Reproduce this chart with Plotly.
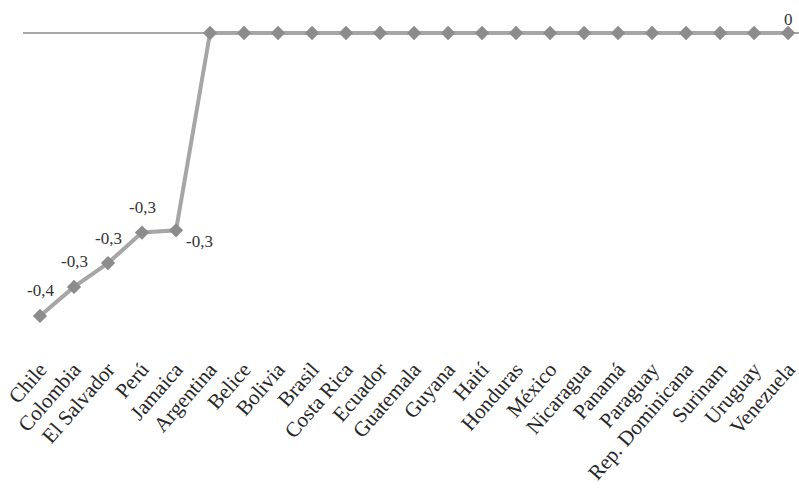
import plotly.graph_objects as go

countries = ["Chile", "Colombia", "El Salvador", "Perú", "Jamaica", "Argentina", "Belice",
             "Bolivia", "Brasil", "Costa Rica", "Ecuador", "Guatemala", "Guyana", "Haití",
             "Honduras", "México", "Nicaragua", "Panamá", "Paraguay", "Rep. Dominicana",
             "Surinam", "Uruguay", "Venezuela"]
values = [-0.38, -0.341, -0.309, -0.268, -0.265, 0, 0, 0, 0, 0, 0, 0, 0, 0, 0, 0, 0, 0, 0, 0, 0, 0, 0]

def fmt(v):
    return f"{v:.1f}".replace(".", ",") if v != 0 else "0"

fig = go.Figure()
fig.add_trace(go.Scatter(
    x=countries, y=values, mode="lines+markers",
    line=dict(color="#A6A6A6", width=4),
    marker=dict(symbol="diamond", size=11, color="#8C8C8C"),
    cliponaxis=False, showlegend=False, hoverinfo="skip",
))

# data labels (label offsets in pixels)
for i, (c, v) in enumerate(zip(countries, values)):
    if v == 0 and i != len(values) - 1:
        continue
    xs, ys = 0, 25
    if c == "Jamaica":
        xs, ys = 23, -11
    if v == 0:
        ys = 14
    fig.add_annotation(x=c, y=v, text=fmt(v), showarrow=False,
                       xshift=xs, yshift=ys,
                       font=dict(family="Liberation Serif", size=17, color="#333333"))

fig.update_layout(
    width=799, height=493,
    margin=dict(l=23, r=0, t=10, b=148),
    paper_bgcolor="white", plot_bgcolor="white",
    font=dict(family="Liberation Serif", size=21, color="#262626"),
    xaxis=dict(type="category", range=[-0.5, 22.32], tickangle=-49, automargin=False,
               showgrid=False, showline=False, ticks="", zeroline=False,
               ticklabelstandoff=7,
               tickfont=dict(family="Liberation Serif", size=21, color="#262626")),
    yaxis=dict(range=[-0.419, 0.0309], showgrid=False, showticklabels=False, automargin=False,
               zeroline=True, zerolinecolor="#A6A6A6", zerolinewidth=1.5,
               showline=False, ticks=""),
)

fig.write_html("out.html", config={"displayModeBar": False},
               post_script="document.body.style.margin='0';document.body.style.overflow='hidden';")
